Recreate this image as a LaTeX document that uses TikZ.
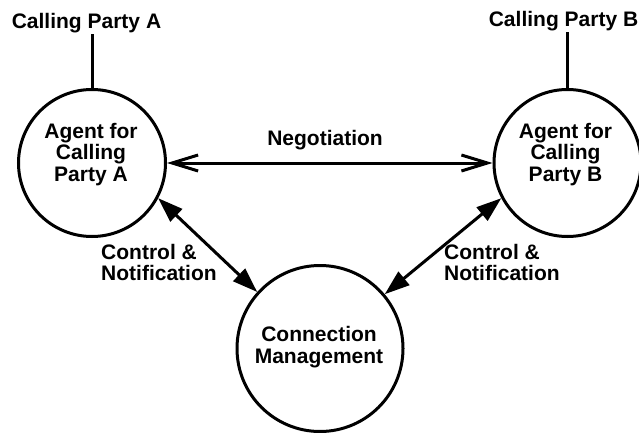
\documentclass[tikz,border=0pt]{standalone}
\usepackage{fontspec}
\setmainfont{Liberation Sans}
\usetikzlibrary{arrows.meta}
\begin{document}
\begin{tikzpicture}[x=1pt,y=-1pt,
  every node/.style={font=\fontsize{21}{21.5}\selectfont\bfseries, inner sep=0pt},
  agent/.style={circle, draw, line width=3pt, minimum size=147pt},
  manager/.style={circle, draw, line width=3pt, minimum size=166pt},
  wire/.style={line width=3pt},
  negotiate/.style={line width=3pt, {Straight Barb[length=26pt,width=16pt,line width=3pt]}-{Straight Barb[length=26pt,width=16pt,line width=3pt]}},
  control/.style={line width=3pt, {Triangle[length=25pt,width=17pt]}-{Triangle[length=25pt,width=17pt]}},
  txt/.style={align=center},
  sidetxt/.style={align=left, anchor=west}]
\useasboundingbox (0,0) rectangle (639,433);

% the three processes
\node[agent] (A) at (92,163) {};
\node[agent] (B) at (567.5,163) {};
\node[manager] (C) at (320,348.5) {};

\node[txt] (Atext) at (91,154.5) {Agent for\\Calling\\Party A};
\node[txt] (Btext) at (565.5,154.5) {Agent for\\Calling\\Party B};
\node[txt] (Ctext) at (319,347) {Connection\\Management};

% the parties each agent serves
\node[anchor=base] (pA) at (86.5,29) {Calling Party A};
\node[anchor=base] (pB) at (563.5,27) {Calling Party B};
\draw[wire] (A.north) -- (A.north |- pA.south);
\draw[wire] (B.north) -- (B.north |- pB.south);

% negotiation between the agents
\draw[negotiate] (A.east) -- (B.west);
\node[anchor=base] (neg) at (325,145) {Negotiation};

% control and notification with connection management
\draw[control] (A.-28) -- (C.138);
\draw[control] (B.-152) -- (C.40);
\node[sidetxt] (ctlA) at (101,262.5) {Control \&\\Notification};
\node[sidetxt] (ctlB) at (444,262.5) {Control \&\\Notification};
\end{tikzpicture}
\end{document}
